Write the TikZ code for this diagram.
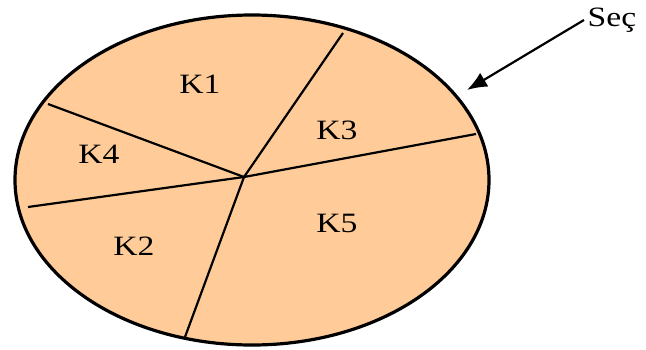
\documentclass[tikz,border=0pt]{standalone}
\usepackage{fontspec}
\setmainfont{Liberation Serif}
\usetikzlibrary{shapes.geometric,arrows.meta}
\begin{document}
\begin{tikzpicture}[x=1pt,y=-1pt,
  lbl/.style={font=\fontsize{28}{32}\selectfont, xscale=1.2, inner sep=0pt},
  spoke/.style={draw=black, line width=2.2pt},
  rim/.style={draw=black, line width=3.2pt, fill={rgb,255:red,255;green,204;blue,153}}]
\useasboundingbox (0,0) rectangle (646,349);
\node[rim, ellipse, minimum width=474pt, minimum height=330pt, inner sep=0pt] (E) at (252,180) {};
\coordinate (c) at (244,177);
\coordinate (t) at (343,33);
\coordinate (r) at (476,134);
\coordinate (b) at (185,337);
\coordinate (lt) at (48,104);
\coordinate (lb) at (28,207);
\draw[spoke] (c) -- (t);
\draw[spoke] (c) -- (r);
\draw[spoke] (c) -- (b);
\draw[spoke] (c) -- (lt);
\draw[spoke] (c) -- (lb);
\node[lbl] (k1) at (200,84) {K1};
\node[lbl] (k4) at (99,154) {K4};
\node[lbl] (k3) at (337,130) {K3};
\node[lbl] (k2) at (134,246) {K2};
\node[lbl] (k5) at (337,223) {K5};
\node[lbl] (sec) at (612,20) {Seç};
\coordinate (tip) at (467,90);
\draw[line width=2.2pt, -{Latex[length=20pt,width=16pt]}] (584,20) -- (tip);
\end{tikzpicture}
\end{document}
